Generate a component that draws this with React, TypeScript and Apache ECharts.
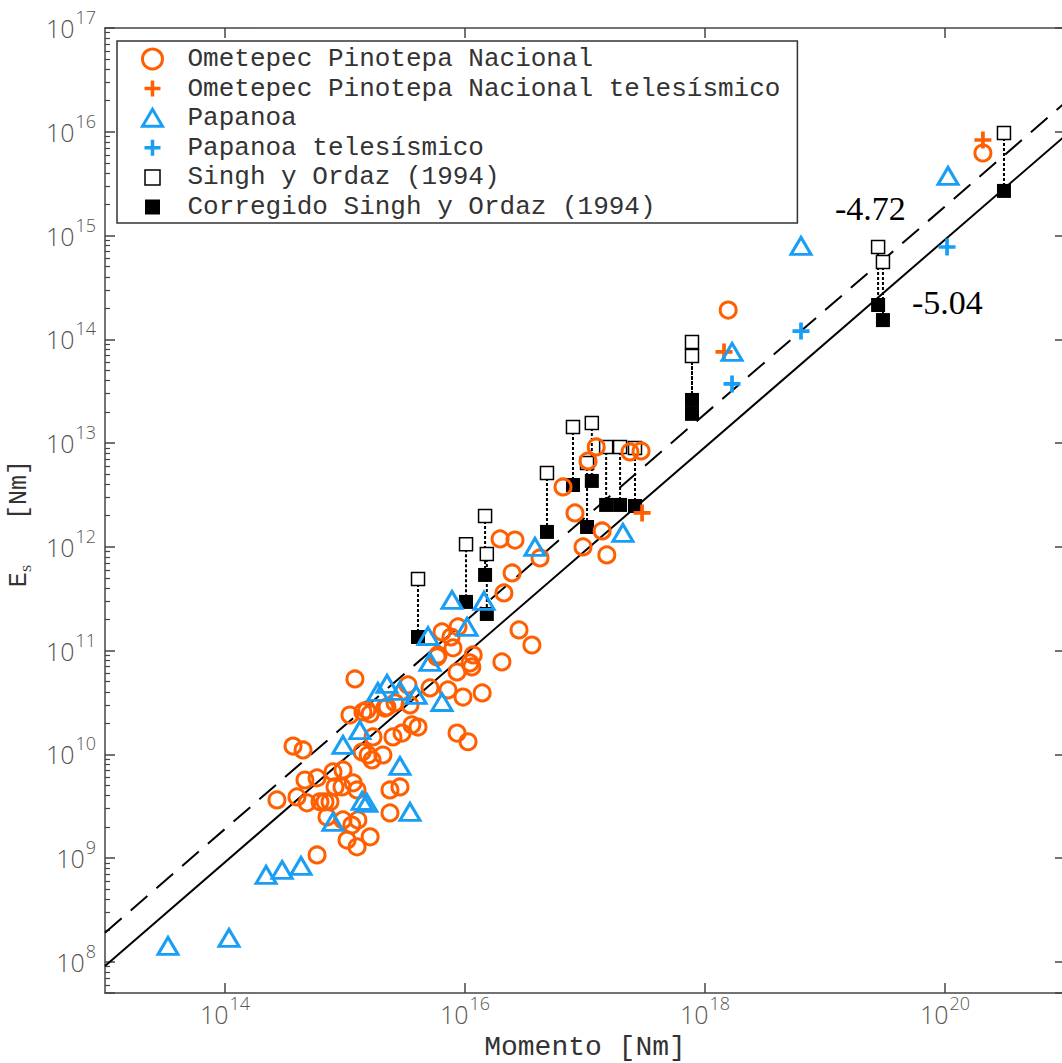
import React, { useEffect, useRef } from 'react';
import * as echarts from 'echarts';

// ---------- data (moment M0 [Nm], energy Es [Nm]) ----------
const X_MIN = 1e13;
const X_MAX = 1e21;
const Y_MIN = 5e7;
const Y_MAX = 1e17;
const xTickValues = [1e14, 1e16, 1e18, 1e20];

const FIT_DASHED = -4.72;
const FIT_SOLID = -5.04;

const ometepecPoints: [number, number][] = [
  [2.71e14, 3.63e9], [3.69e14, 1.2e10], [4.47e14, 1.1e10], [4.64e14, 5.65e9], [5.85e14, 5.92e9],
  [3.98e14, 3.88e9], [4.82e14, 3.4e9], [6.19e14, 3.48e9], [7.5e14, 3.48e9], [7.94e14, 6.76e9],
  [9.62e14, 7.06e9], [8.25e14, 4.84e9], [1.17e15, 5.3e9], [1.26e15, 4.53e9], [7.08e14, 2.49e9],
  [9.62e14, 2.33e9], [1.28e15, 2.33e9], [1.14e15, 2.08e9], [1.04e15, 1.49e9], [1.26e15, 1.28e9],
  [1.62e15, 1.6e9], [5.85e14, 1.07e9], [2.37e15, 4.53e9], [2.87e15, 4.84e9], [2.37e15, 2.72e9],
  [1.39e15, 1.05e10], [1.56e15, 9.84e9], [1.68e15, 8.81e9], [2.07e15, 9.84e9], [1.71e15, 1.47e10],
  [2.51e15, 1.47e10], [1.1e15, 2.39e10], [1.41e15, 2.56e10], [1.62e15, 2.45e10], [1.21e15, 5.32e10],
  [2.24e15, 2.86e10], [2.61e15, 3.13e10], [3.48e15, 2.99e10], [3.61e15, 1.92e10], [4.06e15, 1.83e10],
  [2.99e15, 1.6e10], [3.35e15, 4.66e10], [5.11e15, 4.36e10], [7.21e15, 4.17e10], [9.62e15, 3.56e10],
  [1.39e16, 3.9e10], [8.58e15, 6.21e10], [1.1e16, 7.59e10], [5.85e15, 8.67e10], [7.94e15, 1.06e11],
  [6.43e15, 1.51e11], [8.75e15, 1.69e11], [7.64e15, 1.35e11], [1.17e16, 9.06e10], [2.03e16, 7.76e10],
  [8.58e15, 1.6e10], [1.06e16, 1.32e10], [1.96e16, 1.19e12], [2.61e16, 1.16e12], [4.22e16, 7.8e11],
  [2.47e16, 5.59e11], [2.11e16, 3.59e11], [2.82e16, 1.58e11], [3.61e16, 1.13e11], [6.56e16, 3.77e12],
  [8.25e16, 2.12e12], [9.62e16, 9.96e11], [1.39e17, 1.42e12], [1.52e17, 8.34e11], [1.06e17, 6.71e12],
  [1.24e17, 9.16e12], [2.37e17, 8.2e12], [2.93e17, 8.38e12], [1.56e18, 1.91e14], [2.07e20, 6.24e15],
  [1.14e16, 6.95e10], [5.96e15, 9.06e10], [2.15e15, 2.79e10], [9.44e14, 4.84e9], [6.81e14, 3.48e9],
  [1.52e15, 2.67e10],
];

const ometepecTelePoints: [number, number][] = [
  [2.07e20, 8.33e15], [1.44e18, 7.54e13], [2.99e17, 2.12e12],
];

const papanoaPoints: [number, number][] = [
  [3.35e13, 1.42e8], [1.08e14, 1.7e8], [2.2e14, 6.87e8], [2.99e14, 7.67e8], [4.3e14, 8.39e8],
  [7.94e14, 2.23e9], [1.39e15, 3.55e9], [1.52e15, 3.4e9], [3.48e15, 2.78e9], [2.87e15, 7.71e9],
  [9.62e14, 1.23e10], [1.33e15, 1.71e10], [1.88e15, 3.99e10], [2.24e15, 4.76e10], [2.87e15, 4.08e10],
  [3.91e15, 3.73e10], [6.43e15, 3.19e10], [5.11e15, 7.76e10], [4.92e15, 1.38e11], [1.04e16, 1.69e11],
  [7.79e15, 3.07e11], [1.44e16, 3.01e11], [3.83e16, 9.96e11], [2.07e17, 1.36e12], [1.68e18, 7.54e13],
  [6.31e18, 7.93e14], [1.06e20, 3.75e15],
];

const papanoaTelePoints: [number, number][] = [
  [1.68e18, 3.71e13], [6.31e18, 1.2e14], [1.04e20, 7.75e14],
];

const singhMoment = [
  4.06e15, 1.02e16, 1.47e16, 1.52e16, 4.82e16, 7.94e16, 1.14e17, 1.04e17,
  1.5e17, 1.96e17, 2.61e17, 7.79e17, 7.79e17, 2.77e19, 3.04e19, 3.1e20,
];
const singhEnergy = [
  4.9e11, 1.06e12, 1.98e12, 8.53e11, 5.14e12, 1.43e13, 1.56e13, 6.43e12,
  9.16e12, 9.16e12, 8.96e12, 9.42e13, 6.9e13, 7.75e14, 5.56e14, 9.73e15,
];
const correctedEnergy = [
  1.35e11, 2.94e11, 5.35e11, 2.25e11, 1.39e12, 3.94e12, 4.31e12, 1.55e12,
  2.53e12, 2.53e12, 2.47e12, 2.6e13, 1.91e13, 2.14e14, 1.53e14, 2.69e15,
];

const NAME_OME = 'Ometepec Pinotepa Nacional';
const NAME_OME_T = 'Ometepec Pinotepa Nacional telesísmico';
const NAME_PAP = 'Papanoa';
const NAME_PAP_T = 'Papanoa telesísmico';
const NAME_SINGH = 'Singh y Ordaz (1994)';
const NAME_CORR = 'Corregido Singh y Ordaz (1994)';

// ---------- style ----------
const ORANGE = '#ff5f00';
const BLUE = '#199ef5';
const AXIS = '#444';
const TICK_TXT = '#555';
const MONO = "'Liberation Mono', 'DejaVu Sans Mono', monospace";
const TICK_FONT = "'Open Sans', 'Liberation Sans', sans-serif";

const PLUS_PATH = 'path://M0,6.25H16V9.75H0Z M6.25,0H9.75V16H6.25Z';
const LEG_PLUS = 'path://M0,0M20,20M2,8.25H18V11.75H2Z M8.25,2H11.75V18H8.25Z';
const LEG_SQUARE = 'path://M0,0M20,20M2.5,2.5H17.5V17.5H2.5Z';
const LEG_TRI = 'path://M0,-1M22,19M11,0L21,17H1Z';

const powLabel = (v: number) => {
  const e = Math.log10(v);
  const r = Math.round(e);
  if (Math.abs(e - r) > 1e-6) return '';
  return `{b|10}{s|${r}}`;
};

const tickRich = {
  b: { fontSize: 25, lineHeight: 40, fontFamily: TICK_FONT, fontWeight: 300, color: TICK_TXT },
  s: { fontSize: 18, lineHeight: 18, verticalAlign: 'top', fontFamily: TICK_FONT, fontWeight: 300, color: TICK_TXT, padding: [0, 0, 0, 1] },
};

const fitLine = (offset: number) => [
  [X_MIN, X_MIN * Math.pow(10, offset)],
  [X_MAX, X_MAX * Math.pow(10, offset)],
];

const connectorData: any[] = [];
singhMoment.forEach((m, i) => {
  connectorData.push([m, singhEnergy[i]], [m, correctedEnergy[i]], [m, '-']);
});

const axisLineStyle = { color: AXIS, width: 1.5 };

const option: any = {
  animation: false,
  backgroundColor: '#fff',
  grid: { left: 105, top: 28, right: -3, bottom: 70, outerBoundsMode: 'none', containLabel: false },
  legend: {
    orient: 'vertical',
    left: 117,
    top: 41,
    padding: [5, 17, 3, 23],
    itemWidth: 60,
    itemHeight: 20,
    itemGap: 3.6,
    borderColor: '#333',
    borderWidth: 1.5,
    backgroundColor: '#fff',
    selectedMode: false,
    textStyle: { fontFamily: MONO, fontSize: 26, color: '#333' },
    data: [
      { name: NAME_OME, icon: 'circle', itemStyle: { color: 'rgba(0,0,0,0)', borderColor: ORANGE, borderWidth: 3, opacity: 1 } },
      { name: NAME_OME_T, icon: LEG_PLUS, itemStyle: { color: ORANGE, borderWidth: 0, opacity: 1 } },
      { name: NAME_PAP, icon: LEG_TRI, itemStyle: { color: 'rgba(0,0,0,0)', borderColor: BLUE, borderWidth: 3, opacity: 1 } },
      { name: NAME_PAP_T, icon: LEG_PLUS, itemStyle: { color: BLUE, borderWidth: 0, opacity: 1 } },
      { name: NAME_SINGH, icon: LEG_SQUARE, itemStyle: { color: '#fff', borderColor: '#000', borderWidth: 1.5, opacity: 1 } },
      { name: NAME_CORR, icon: LEG_SQUARE, itemStyle: { color: '#000', borderWidth: 0, opacity: 1 } },
    ],
  },
  xAxis: [
    {
      type: 'log',
      logBase: 10,
      min: X_MIN,
      max: X_MAX,
      position: 'bottom',
      axisLine: { show: true, lineStyle: axisLineStyle },
      axisTick: { show: true, inside: true, length: 10, customValues: xTickValues, lineStyle: axisLineStyle },
      axisLabel: { customValues: xTickValues, formatter: powLabel, rich: tickRich, margin: 1 },
      splitLine: { show: false },
      minorTick: { show: false },
      name: 'Momento [Nm]',
      nameLocation: 'middle',
      nameGap: 40,
      nameTextStyle: { fontFamily: MONO, fontSize: 28, color: '#333', lineHeight: 28 },
    },
    {
      type: 'log',
      logBase: 10,
      min: X_MIN,
      max: X_MAX,
      position: 'top',
      axisLine: { show: true, lineStyle: axisLineStyle },
      axisTick: { show: true, inside: true, length: 10, customValues: xTickValues, lineStyle: axisLineStyle },
      axisLabel: { show: false },
      splitLine: { show: false },
    },
  ],
  yAxis: [
    {
      type: 'log',
      logBase: 10,
      min: Y_MIN,
      max: Y_MAX,
      position: 'left',
      axisLine: { show: true, lineStyle: axisLineStyle },
      axisTick: { show: true, inside: true, length: 10, lineStyle: axisLineStyle },
      minorTick: { show: true, splitNumber: 9, length: 5, lineStyle: { color: AXIS, width: 1.2 } },
      axisLabel: { formatter: powLabel, rich: tickRich, margin: 9 },
      splitLine: { show: false },
      name: '{e|E}{s|S}{e|   [Nm]}',
      nameLocation: 'middle',
      nameRotate: 90,
      nameGap: 72,
      nameTextStyle: {
        padding: [0, 26, 0, 0],
        rich: {
          e: { fontFamily: MONO, fontSize: 25, lineHeight: 28, color: '#333' },
          s: { fontFamily: "'Liberation Serif', serif", fontSize: 13, lineHeight: 13, verticalAlign: 'bottom', color: '#333' },
        },
      },
    },
    {
      type: 'log',
      logBase: 10,
      min: Y_MIN,
      max: Y_MAX,
      position: 'right',
      axisLine: { show: true, lineStyle: axisLineStyle },
      axisTick: { show: true, inside: true, length: 10, lineStyle: axisLineStyle },
      axisLabel: { show: false },
      splitLine: { show: false },
    },
  ],
  graphic: [
    {
      type: 'text',
      x: 835,
      y: 208,
      style: { text: '-4.72', fontFamily: "'Liberation Serif', serif", fontSize: 34, fill: '#000', verticalAlign: 'middle', align: 'left' },
    },
    {
      type: 'text',
      x: 912,
      y: 302,
      style: { text: '-5.04', fontFamily: "'Liberation Serif', serif", fontSize: 34, fill: '#000', verticalAlign: 'middle', align: 'left' },
    },
  ],
  series: [
    {
      type: 'line',
      name: 'fit -4.72',
      data: fitLine(FIT_DASHED),
      symbol: 'none',
      silent: true,
      lineStyle: { color: '#000', width: 2, type: [22, 12], opacity: 1 },
      z: 1,
    },
    {
      type: 'line',
      name: 'fit -5.04',
      data: fitLine(FIT_SOLID),
      symbol: 'none',
      silent: true,
      lineStyle: { color: '#000', width: 2, type: 'solid', opacity: 1 },
      z: 1,
    },
    {
      type: 'line',
      name: 'connectors',
      data: connectorData,
      symbol: 'none',
      showSymbol: false,
      connectNulls: false,
      silent: true,
      lineStyle: { color: '#000', width: 2, type: [3, 2], opacity: 1 },
      z: 2,
    },
    {
      type: 'scatter',
      name: NAME_SINGH,
      data: singhMoment.map((m, i) => [m, singhEnergy[i]]),
      symbol: 'rect',
      symbolSize: 13,
      itemStyle: { color: '#fff', borderColor: '#000', borderWidth: 1.5, opacity: 1 },
      z: 3,
    },
    {
      type: 'scatter',
      name: NAME_CORR,
      data: singhMoment.map((m, i) => [m, correctedEnergy[i]]),
      symbol: 'rect',
      symbolSize: 14,
      itemStyle: { color: '#000', opacity: 1 },
      z: 3,
    },
    {
      type: 'scatter',
      name: NAME_OME,
      data: ometepecPoints,
      symbol: 'circle',
      symbolSize: 16,
      itemStyle: { color: 'rgba(0,0,0,0)', borderColor: ORANGE, borderWidth: 3, opacity: 1 },
      z: 4,
    },
    {
      type: 'scatter',
      name: NAME_OME_T,
      data: ometepecTelePoints,
      symbol: PLUS_PATH,
      symbolSize: 17,
      itemStyle: { color: ORANGE, opacity: 1 },
      z: 4,
    },
    {
      type: 'scatter',
      name: NAME_PAP,
      data: papanoaPoints,
      symbol: 'triangle',
      symbolSize: [20, 17],
      itemStyle: { color: 'rgba(0,0,0,0)', borderColor: BLUE, borderWidth: 3, opacity: 1 },
      z: 5,
    },
    {
      type: 'scatter',
      name: NAME_PAP_T,
      data: papanoaTelePoints,
      symbol: PLUS_PATH,
      symbolSize: 17,
      itemStyle: { color: BLUE, opacity: 1 },
      z: 5,
    },
  ],
};

export default function App() {
  const ref = useRef<HTMLDivElement>(null);
  useEffect(() => {
    document.body.style.margin = '0';
    const chart = echarts.init(ref.current as HTMLDivElement, null, { renderer: 'svg' });
    chart.setOption(option);
    return () => chart.dispose();
  }, []);
  return <div ref={ref} style={{ width: 1062, height: 1063 }} />;
}
